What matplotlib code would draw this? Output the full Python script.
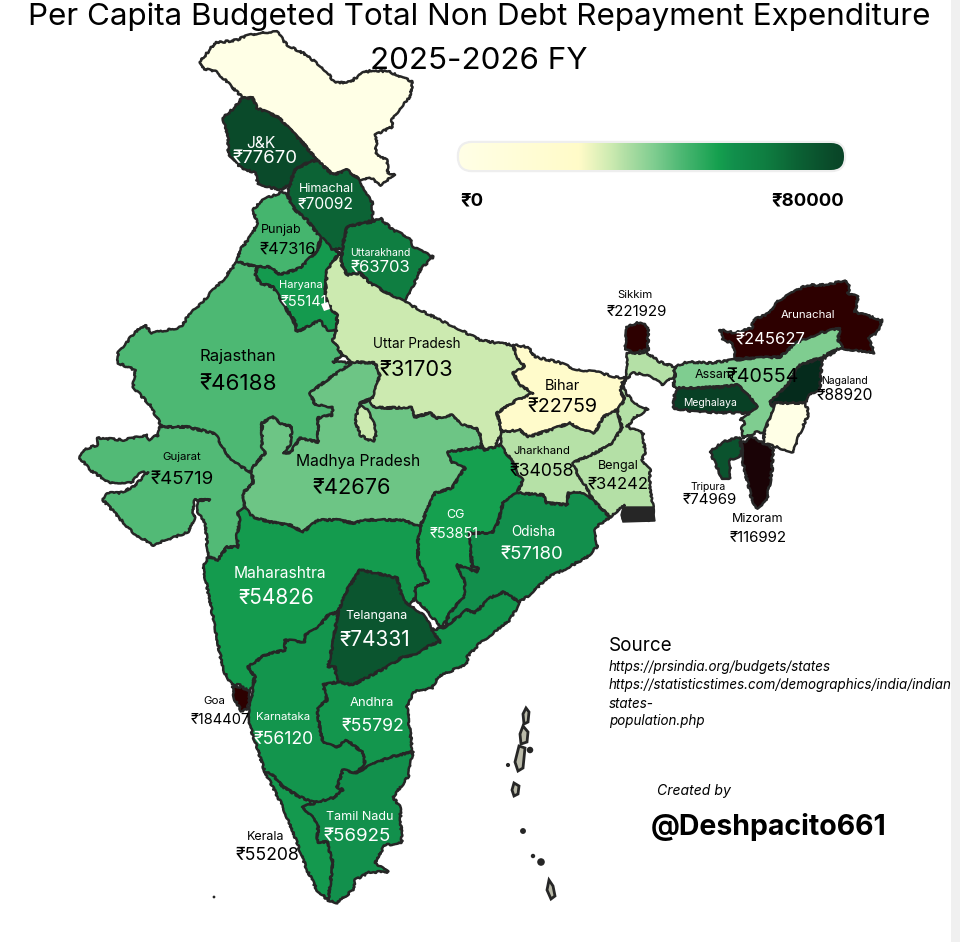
import numpy as np
import matplotlib
matplotlib.use("Agg")
import matplotlib.pyplot as plt
from matplotlib.colors import LinearSegmentedColormap, Normalize
from matplotlib.patches import Polygon, FancyBboxPatch, Rectangle

plt.rcParams['font.family'] = ['Inter', 'DejaVu Sans']

# per capita values (rupees), 0 = no data on the map
states = ['Ladakh', 'J&K', 'Himachal', 'Punjab', 'Uttarakhand', 'Haryana', 'Rajasthan', 'Uttar Pradesh',
          'Bihar', 'Jharkhand', 'Bengal', 'Gujarat', 'Madhya Pradesh', 'CG', 'Odisha', 'Maharashtra',
          'Telangana', 'Andhra', 'Karnataka', 'Tamil Nadu', 'Kerala', 'Goa', 'Sikkim', 'Arunachal',
          'Assam', 'Meghalaya', 'Nagaland', 'Manipur', 'Mizoram', 'Tripura']
values = [0, 77670, 70092, 47316, 63703, 55141, 46188, 31703,
          22759, 34058, 34242, 45719, 42676, 53851, 57180, 54826,
          74331, 55792, 56120, 56925, 55208, 184407, 221929, 245627,
          40554, 81410, 88920, 0, 116992, 74969]

# colour scale stops
scale_values = [0, 25000, 31703, 34242, 40554, 46188, 53851, 57180, 63703, 70092, 77670, 88920, 116992, 184407, 250000]
scale_colors = ['#ffffe6', '#fffbc8', '#cbeab0', '#b4e0a6', '#7fcd90', '#4db873', '#15a04f', '#128f4c',
                '#0f7e41', '#0c6335', '#0a4a2a', '#052b1c', '#1a0306', '#2d0000', '#2d0000']

# state outlines in pixels
outlines = {
    'Ladakh': [(200,62),(215,43),(237,40),(243,37),(258,33),(277,32),(287,45),(303,53),(317,63),(327,72),(335,83),(350,82),(363,73),(373,70),(390,72),(413,82),(410,97),(400,108),(392,120),(392,127),(375,135),(377,145),(375,153),(387,160),(388,173),(395,175),(380,185),(370,177),(360,180),(347,170),(333,175),(317,160),(303,143),(278,117),(257,108),(253,98),(242,97),(230,85),(217,72),(202,68)],
    'J&K': [(223,118),(235,107),(242,98),(253,98),(257,108),(278,117),(302,142),(317,160),(307,163),(295,170),(290,183),(282,190),(268,187),(258,183),(255,173),(240,167),(228,153),(228,137)],
    'Himachal': [(295,170),(307,163),(317,160),(333,175),(347,170),(360,180),(363,190),(372,202),(373,220),(363,223),(347,227),(342,248),(333,250),(320,237),(307,220),(295,210),(287,193),(290,185)],
    'Uttarakhand': [(347,227),(363,223),(373,222),(380,218),(393,230),(410,238),(413,247),(433,257),(420,270),(413,287),(405,302),(387,293),(370,283),(360,273),(347,275),(342,265),(342,250)],
    'Punjab': [(282,192),(287,195),(295,210),(307,220),(320,237),(318,250),(308,260),(300,268),(280,275),(270,267),(257,267),(237,262),(240,250),(253,233),(257,223),(253,210),(262,200)],
    'Haryana': [(257,267),(270,267),(280,275),(300,268),(308,260),(318,250),(322,238),(333,250),(340,252),(327,270),(325,297),(332,310),(337,315),(337,328),(322,337),(313,327),(297,330),(295,322),(283,303),(273,287),(260,283),(255,275)],
    'Rajasthan': [(237,262),(257,267),(255,275),(260,283),(273,287),(283,303),(293,323),(297,332),(320,320),(327,330),(337,330),(333,340),(342,355),(333,362),(353,363),(327,380),(310,393),(315,405),(333,407),(332,415),(318,418),(318,442),(300,438),(290,453),(283,453),(290,445),(292,427),(280,423),(273,417),(262,423),(262,447),(265,453),(253,467),(252,473),(230,460),(217,437),(213,433),(187,427),(162,427),(150,405),(133,387),(135,370),(118,363),(118,353),(135,332),(145,325),(152,333),(182,327),(187,317),(207,297),(213,290),(223,280)],
    'Gujarat': [(160,427),(187,427),(213,433),(217,437),(230,460),(252,473),(253,483),(243,493),(245,508),(238,513),(240,520),(237,535),(238,547),(227,547),(218,560),(208,557),(207,543),(205,523),(198,512),(198,500),(210,500),(195,500),(192,512),(195,515),(193,523),(188,532),(153,545),(133,533),(103,500),(107,493),(120,493),(133,487),(148,472),(140,473),(132,482),(110,483),(90,470),(80,458),(83,450),(97,445),(98,438),(123,440),(147,435),(148,440),(158,435)],
    'Madhya Pradesh': [(353,362),(375,363),(380,375),(373,398),(360,403),(370,400),(373,407),(387,408),(412,407),(415,417),(430,413),(437,418),(453,415),(463,425),(477,428),(480,435),(482,447),(448,452),(452,462),(465,468),(457,480),(452,488),(435,493),(427,510),(420,527),(403,520),(367,520),(353,523),(337,520),(318,520),(303,532),(290,525),(270,522),(253,517),(245,508),(243,493),(253,483),(252,473),(253,467),(265,453),(262,447),(262,423),(273,417),(280,423),(292,427),(290,445),(283,453),(290,453),(300,438),(318,442),(318,418),(332,415),(333,407),(315,405),(310,393),(327,380)],
    'Uttar Pradesh': [(340,253),(342,265),(347,275),(360,273),(370,283),(387,293),(405,302),(420,310),(440,320),(457,328),(480,340),(497,343),(513,345),(517,357),(525,367),(513,373),(520,385),(533,393),(517,400),(497,413),(502,432),(495,447),(483,450),(480,435),(477,428),(463,425),(453,415),(437,418),(430,413),(415,417),(412,407),(387,408),(373,407),(370,400),(360,403),(373,398),(380,375),(375,363),(353,362),(342,355),(333,340),(337,328),(337,315),(332,310),(325,297),(327,270)],
    'Uttar Pradesh lobe': [(360,403),(355,420),(360,435),(373,442),(377,432),(368,410)],
    'Bihar': [(513,345),(528,347),(535,357),(558,362),(577,370),(597,372),(615,377),(627,378),(620,390),(625,400),(617,410),(603,417),(595,433),(580,430),(570,423),(550,430),(528,437),(520,430),(502,432),(497,413),(517,400),(533,393),(520,385),(513,373),(525,367),(517,357)],
    'Jharkhand': [(502,432),(520,430),(528,437),(550,430),(570,423),(580,430),(595,433),(603,417),(617,410),(622,427),(613,443),(597,452),(573,463),(577,473),(590,493),(595,502),(580,492),(568,493),(568,505),(547,503),(543,495),(517,493),(523,480),(517,475),(513,462),(500,445)],
    'Bengal': [(627,353),(647,353),(660,362),(675,367),(673,377),(663,385),(650,375),(633,373),(622,383),(626,393),(635,403),(648,410),(635,417),(627,427),(643,433),(645,453),(642,460),(650,470),(650,487),(653,507),(653,520),(623,520),(625,505),(610,517),(595,502),(590,493),(577,473),(573,463),(597,452),(613,443),(622,427),(617,410),(625,400),(620,390),(627,378),(627,365)],
    'CG': [(448,452),(482,447),(483,450),(495,447),(500,445),(513,462),(517,475),(523,480),(517,493),(503,503),(498,523),(492,533),(470,533),(472,567),(478,568),(477,572),(457,565),(465,582),(465,595),(450,613),(442,628),(432,617),(415,598),(415,587),(428,582),(418,560),(418,540),(420,527),(427,510),(435,493),(452,488),(457,480),(465,468),(452,462)],
    'Odisha': [(517,493),(543,495),(547,503),(568,505),(568,493),(580,492),(595,502),(610,517),(595,528),(597,547),(587,557),(567,568),(547,578),(533,592),(520,602),(503,592),(490,598),(475,613),(467,610),(445,627),(450,613),(465,595),(465,582),(457,565),(477,572),(478,568),(472,567),(470,533),(492,533),(498,523),(503,503)],
    'Maharashtra': [(203,568),(208,557),(218,560),(227,547),(238,547),(237,535),(240,520),(238,513),(245,508),(253,517),(270,522),(290,525),(303,532),(318,520),(337,520),(353,523),(367,520),(403,520),(420,527),(418,540),(418,560),(428,582),(415,587),(415,598),(410,605),(403,600),(397,578),(375,573),(360,570),(347,590),(338,612),(328,615),(318,628),(305,635),(305,642),(285,640),(285,650),(265,655),(248,667),(255,677),(250,692),(240,685),(232,685),(223,670),(213,617),(205,577)],
    'Telangana': [(360,570),(375,573),(397,578),(403,600),(423,615),(432,628),(440,642),(430,645),(417,655),(403,657),(387,667),(353,685),(337,682),(335,667),(328,667),(333,643),(338,612),(347,590)],
    'Andhra': [(337,682),(353,685),(387,667),(403,657),(417,655),(430,645),(440,642),(432,630),(445,627),(467,610),(475,613),(490,598),(503,592),(520,602),(510,620),(480,643),(467,657),(468,663),(438,677),(432,688),(413,692),(407,707),(412,747),(413,752),(390,757),(367,767),(360,772),(365,762),(362,752),(347,740),(337,747),(323,743),(320,730),(317,708),(327,700),(323,685)],
    'Karnataka': [(248,667),(265,655),(285,650),(285,640),(305,642),(305,635),(318,628),(328,615),(338,612),(333,643),(328,667),(335,667),(337,682),(323,685),(327,700),(317,708),(320,730),(323,743),(337,747),(347,740),(362,752),(365,762),(357,773),(343,770),(337,787),(343,790),(333,798),(315,803),(300,797),(283,787),(273,775),(265,772),(248,720),(255,677)],
    'Goa': [(232,687),(242,687),(250,692),(248,708),(242,712),(235,700)],
    'Tamil Nadu': [(313,803),(333,798),(343,790),(337,787),(343,770),(357,773),(367,767),(390,757),(413,752),(408,777),(393,797),(400,807),(402,843),(385,845),(375,863),(388,872),(370,872),(355,880),(353,890),(337,903),(328,900),(333,863),(327,842),(317,842),(318,827),(312,817),(302,807)],
    'Kerala': [(265,772),(273,775),(283,787),(300,797),(315,803),(302,807),(312,817),(318,827),(317,842),(327,842),(333,863),(328,900),(317,890),(307,870),(297,843),(283,807)],
    'Sikkim': [(627,327),(640,322),(648,327),(648,350),(633,352),(625,350)],
    'Arunachal': [(720,330),(735,333),(752,328),(753,320),(770,313),(775,303),(792,293),(807,285),(827,285),(845,280),(850,285),(848,293),(858,297),(855,312),(882,320),(877,333),(868,338),(875,353),(853,350),(840,348),(822,360),(797,342),(780,357),(757,358),(735,358),(733,343),(723,340)],
    'Assam': [(675,367),(687,362),(710,363),(733,360),(757,358),(780,357),(797,342),(820,333),(840,328),(838,340),(842,347),(822,357),(800,365),(787,385),(770,402),(775,410),(763,433),(757,432),(743,438),(742,428),(745,422),(740,420),(757,407),(747,393),(737,385),(720,387),(700,388),(680,388),(673,387),(675,377)],
    'Meghalaya': [(680,388),(700,388),(720,387),(737,385),(747,393),(757,407),(747,413),(697,412),(673,408),(675,393)],
    'Nagaland': [(800,365),(822,358),(820,388),(810,395),(805,403),(775,403),(777,410),(770,402),(787,385)],
    'Manipur': [(775,403),(805,403),(809,413),(800,433),(793,452),(763,443),(765,430)],
    'Mizoram': [(752,437),(763,443),(773,448),(772,470),(767,500),(757,508),(752,500),(742,460),(742,443)],
    'Tripura': [(710,452),(723,442),(740,437),(742,455),(730,460),(730,478),(722,478),(715,463)],
}
delhi_hole = [(321,304),(328,302),(330,309),(324,311)]
sundarbans = [(623,507),(653,507),(655,521),(623,522),(621,515)]
andaman = [[(526,708),(529,712),(528,722),(524,724),(523,714)],
           [(523,726),(528,732),(527,742),(521,744),(520,734)],
           [(519,746),(525,748),(523,768),(518,771),(515,762)],
           [(514,783),(519,786),(518,794),(514,796),(512,790)],
           [(549,880),(553,886),(555,896),(551,899),(547,890)]]
island_x = [508, 523, 533, 541, 530, 214]
island_y = [765, 831, 856, 862, 750, 897]
island_s = [9, 18, 10, 30, 22, 4]

# label placement: name x, name y, value x, value y, name px, value px, colour
labels = {
    'J&K': (261,142,265,157,15,18,'white'),
    'Himachal': (326,187,325,203,12,15,'white'),
    'Punjab': (281,229,288,248,12,16,'black'),
    'Uttarakhand': (380,251,380,266,10,16,'white'),
    'Haryana': (301,284,304,300,10.5,14,'white'),
    'Rajasthan': (238,355,238,382,16,21.5,'black'),
    'Uttar Pradesh': (417,342,416,368,13,21,'black'),
    'Bihar': (562,385,562,405,14,19,'black'),
    'Jharkhand': (542,449,542,470,11,17,'black'),
    'Bengal': (618,465,618,483,12,16,'black'),
    'Gujarat': (182,456,182,478,11,18,'black'),
    'Madhya Pradesh': (358,460,352,487,15,21,'black'),
    'CG': (455,514,454,532,12,14,'white'),
    'Odisha': (533,531,532,553,13,18,'white'),
    'Maharashtra': (280,572,276,597,15,20,'white'),
    'Telangana': (377,615,375,639,12,20,'white'),
    'Andhra': (372,702,373,725,12.5,17,'white'),
    'Karnataka': (283,716,284,738,11,17,'white'),
    'Tamil Nadu': (360,815,357,835,12,18,'white'),
    'Kerala': (266,835,267,854,12,17,'black'),
    'Goa': (214,699,220,718,11,14,'black'),
    'Sikkim': (635,293,637,310,11,14.5,'black'),
    'Arunachal': (808,314,770,338,11,16,'white'),
    'Assam': (715,373,763,375,12,19,'black'),
    'Meghalaya': (710,402,707,423,10,14,'white'),
    'Nagaland': (845,379,845,394,10,15,'black'),
    'Tripura': (708,485,710,498,10,14.5,'black'),
    'Mizoram': (758,518,758,537,12,14.5,'black'),
}

source_lines = ['https://prsindia.org/budgets/states',
                'https://statisticstimes.com/demographics/india/indian',
                'states-',
                'population.php']


def px(size):
    return size * 0.72


norm = Normalize(0, 250000)
cmap = LinearSegmentedColormap.from_list(
    'budget', [(v / 250000, c) for v, c in zip(scale_values, scale_colors)], N=2048)
edge = '#262626'

fig = plt.figure(figsize=(9.6, 9.42), dpi=100)
ax = fig.add_axes([0, 0, 1, 1])

value_of = dict(zip(states, values))
for name, pts in outlines.items():
    key = name.replace(' lobe', '')
    patch = Polygon(pts, closed=True, facecolor=cmap(norm(value_of[key])), edgecolor=edge,
                    linewidth=1.8, joinstyle='round', zorder=2)
    patch.set_sketch_params(scale=0.9, length=9, randomness=20)  # rough borders like the original
    ax.add_patch(patch)

ax.add_patch(Polygon(delhi_hole, closed=True, facecolor='white', edgecolor='none', zorder=3))
ax.add_patch(Polygon(sundarbans, closed=True, facecolor=edge, edgecolor=edge, linewidth=1, zorder=3))
for pts in andaman:
    ax.add_patch(Polygon(pts, closed=True, facecolor='#b9b9a8', edgecolor=edge, linewidth=2.0, zorder=3))
ax.scatter(island_x, island_y, s=island_s, c=edge, linewidths=0, zorder=3)

# text comes out about 2px high with va=center
for name, (nx, ny, vx, vy, ns, vs, col) in labels.items():
    ax.text(nx, ny + 1.5, name, fontsize=px(ns * 1.04), color=col, ha='center', va='center', zorder=5)
    ax.text(vx, vy + 1.5, '₹' + str(value_of[name]), fontsize=px(vs * 1.04), color=col,
            ha='center', va='center', zorder=5)

# title
ax.text(479, 17, 'Per Capita Budgeted Total Non Debt Repayment Expenditure', fontsize=px(31.4),
        ha='center', va='center', color='black', zorder=6)
ax.text(479, 61, '2025-2026 FY', fontsize=px(31.4), ha='center', va='center', color='black', zorder=6)

# colour bar
bar = FancyBboxPatch((459, 143), 385, 27, boxstyle='round,pad=0,rounding_size=13',
                     facecolor='none', edgecolor='#eeeeee', linewidth=3.2, zorder=4)
ax.add_patch(bar)
gradient = np.linspace(0, 80000, 500).reshape(1, -1)
im = ax.imshow(gradient, extent=(459, 844, 170, 143), cmap=cmap, norm=norm, aspect='auto', zorder=5)
im.set_clip_path(FancyBboxPatch((459, 143), 385, 27, boxstyle='round,pad=0,rounding_size=13',
                                transform=ax.transData))
ax.text(460, 201, '₹0', fontsize=px(18.5), fontweight='bold', ha='left', va='center')
ax.text(844, 201, '₹80000', fontsize=px(18.5), fontweight='bold', ha='right', va='center')

# source and credit
ax.text(609, 646, 'Source', fontsize=px(18.8), ha='left', va='center')
for i, line in enumerate(source_lines):
    ax.text(609, 667.5 + i * 18, line, fontsize=px(13.4), style='italic', ha='left', va='center')
ax.text(657, 791, 'Created by', fontsize=px(14), style='italic', ha='left', va='center')
ax.text(651, 827, '@Deshpacito661', fontsize=px(28.5), fontweight='bold', ha='left', va='center')

ax.add_patch(Rectangle((951, 0), 9, 942, facecolor='#f0f0f0', edgecolor='none', zorder=8))

ax.set_xlim(0, 960)
ax.set_ylim(942, 0)
ax.axis('off')
fig.savefig('out.png', dpi=100, facecolor='white')
